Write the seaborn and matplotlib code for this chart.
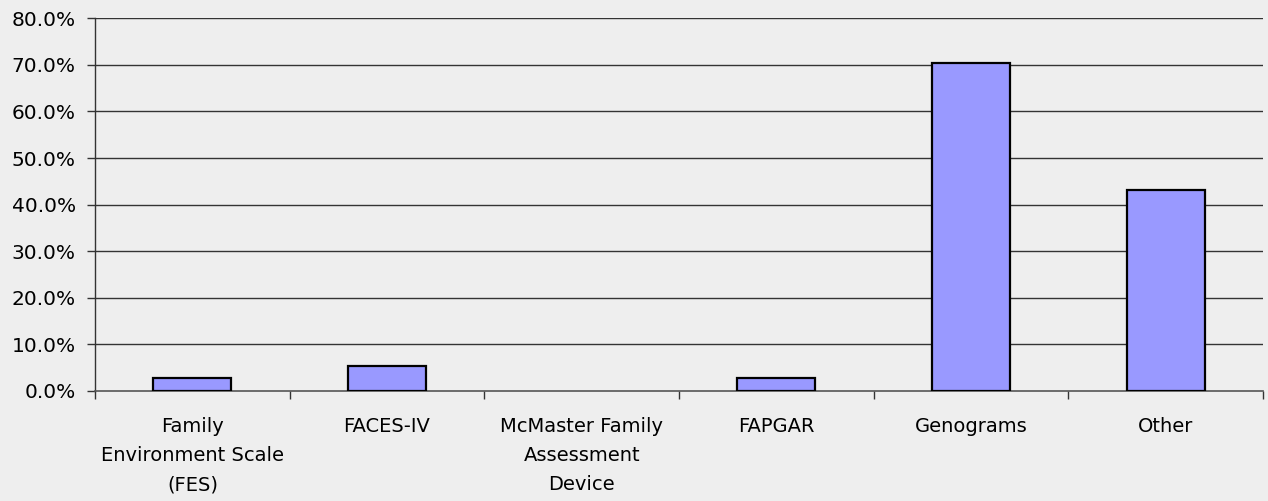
import matplotlib
matplotlib.use('Agg')
import matplotlib.pyplot as plt
import seaborn as sns
import pandas as pd
from matplotlib.ticker import PercentFormatter, FixedLocator

categories = ['Family\nEnvironment Scale\n(FES)', 'FACES-IV', 'McMaster Family\nAssessment\nDevice',
              'FAPGAR', 'Genograms', 'Other']
values = [2.7, 5.4, 0.0, 2.7, 70.3, 43.2]

df = pd.DataFrame({'tool': categories, 'pct': values})

sns.set_style('white')
plt.rcParams['font.family'] = ['DejaVu Sans']

bg = '#EEEEEE'
fig = plt.figure(figsize=(12.68, 5.01), dpi=100, facecolor=bg)
ax = fig.add_axes([0.075, 0.2196, 0.921, 0.744])
ax.set_facecolor(bg)

sns.barplot(data=df, x='tool', y='pct', color='#9999FF', edgecolor='black',
            linewidth=1.6, width=0.4, saturation=1, ax=ax, zorder=3)
# hide outline of empty bars
for p in ax.patches:
    if p.get_height() == 0:
        p.set_linewidth(0)

ax.set_ylim(0, 80)
ax.set_xlim(-0.5, 5.5)
ax.set_yticks(range(0, 81, 10))
ax.yaxis.set_major_formatter(PercentFormatter(decimals=1))
for y in range(10, 81, 10):
    ax.axhline(y, color='#333333', linewidth=1, zorder=1)

ax.xaxis.set_minor_locator(FixedLocator([i - 0.5 for i in range(7)]))
ax.tick_params(axis='x', which='major', length=0, pad=18.5, labelsize=14, labelcolor='black')
ax.tick_params(axis='x', which='minor', length=6, width=1, color='#333333', direction='out', bottom=True)
ax.tick_params(axis='y', length=6, width=1, color='#333333', direction='out', left=True,
               labelsize=14.5, labelcolor='black', pad=8)
for lab in ax.get_xticklabels():
    lab.set_multialignment('center')
    lab.set_linespacing(1.68)

ax.set_xlabel('')
ax.set_ylabel('')
for s in ['top', 'right']:
    ax.spines[s].set_visible(False)
ax.spines['left'].set_color('#333333')
ax.spines['bottom'].set_color('#555555')
ax.spines['left'].set_linewidth(1)
ax.spines['bottom'].set_linewidth(1.2)

fig.savefig('out.png', dpi=100, facecolor=bg)
